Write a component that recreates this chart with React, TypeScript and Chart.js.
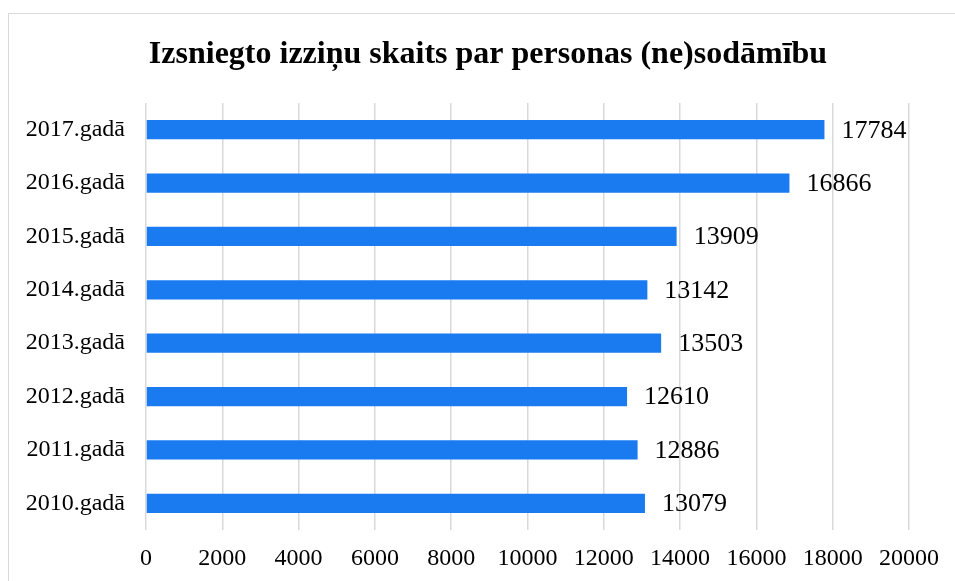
import React, { useEffect, useRef } from 'react';
import { Chart, registerables } from 'chart.js';

Chart.register(...registerables);

const categories = ['2017.gadā', '2016.gadā', '2015.gadā', '2014.gadā', '2013.gadā', '2012.gadā', '2011.gadā', '2010.gadā'];
const values = [17784, 16866, 13909, 13142, 13503, 12610, 12886, 13079];
const xMin = 0;
const xMax = 20000;
const xStep = 2000;
const titleText = 'Izsniegto izziņu skaits par personas (ne)sodāmību';

const FONT = '"Liberation Serif", "Times New Roman", Times, serif';

const valueLabels = {
  id: 'valueLabels',
  afterDatasetsDraw(chart: any) {
    const ctx = chart.ctx;
    const meta = chart.getDatasetMeta(0);
    ctx.save();
    ctx.font = `26px ${FONT}`;
    ctx.fillStyle = '#000';
    ctx.textAlign = 'left';
    ctx.textBaseline = 'middle';
    meta.data.forEach((bar: any, i: number) => {
      ctx.fillText(String(values[i]), bar.x + 17, bar.y + 1);
    });
    ctx.restore();
  },
};

const titleDraw = {
  id: 'titleDraw',
  afterDraw(chart: any) {
    const ctx = chart.ctx;
    ctx.save();
    ctx.font = `bold 32px ${FONT}`;
    ctx.fillStyle = '#000';
    ctx.textAlign = 'center';
    ctx.textBaseline = 'alphabetic';
    ctx.fillText(titleText, 488, 63);
    ctx.restore();
  },
};

export default function App() {
  const ref = useRef<HTMLCanvasElement>(null);

  useEffect(() => {
    if (!ref.current) return;
    const chart = new Chart(ref.current, {
      type: 'bar',
      data: {
        labels: categories,
        datasets: [
          {
            data: values,
            backgroundColor: '#1A7AF0',
            borderWidth: 0,
            categoryPercentage: 1,
            barPercentage: 0.36,
          },
        ],
      },
      options: {
        indexAxis: 'y',
        responsive: false,
        animation: false,
        devicePixelRatio: 1,
        layout: { padding: { left: 0, right: 46, top: 103, bottom: 0 } },
        plugins: {
          legend: { display: false },
          tooltip: { enabled: false },
          title: { display: false },
        },
        scales: {
          x: {
            min: xMin,
            max: xMax,
            grid: { color: '#d9d9d9', lineWidth: 1.5, drawTicks: false },
            border: { display: false },
            ticks: {
              stepSize: xStep,
              color: '#000',
              padding: 14,
              font: { family: FONT, size: 24 },
              maxRotation: 0,
              callback: (v: any) => String(v),
            },
            afterFit(scale: any) {
              scale.height = 51;
            },
          },
          y: {
            grid: { display: false, drawTicks: false },
            border: { display: false },
            ticks: {
              color: '#000',
              padding: 21,
              font: { family: FONT, size: 24 },
            },
            afterFit(scale: any) {
              scale.width = 146;
            },
          },
        },
      },
      plugins: [valueLabels, titleDraw],
    });
    return () => chart.destroy();
  }, []);

  return (
    <div style={{ position: 'fixed', left: 0, top: 0, width: 955, height: 581, overflow: 'hidden', background: '#fff' }}>
      <div
        style={{
          position: 'absolute',
          left: 8,
          top: 13,
          width: 2000,
          height: 2000,
          border: '1.5px solid #d9d9d9',
        }}
      />
      <canvas ref={ref} width={955} height={581} style={{ position: 'absolute', left: 0, top: 0, display: 'block' }} />
    </div>
  );
}
